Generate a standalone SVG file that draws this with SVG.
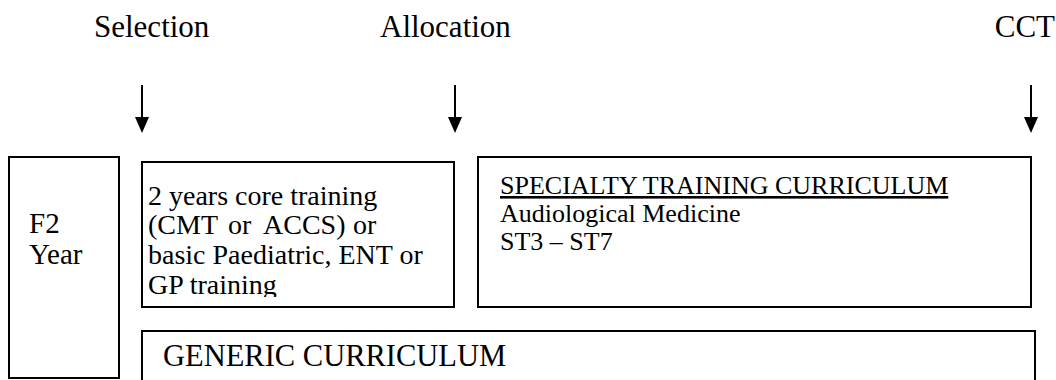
<svg xmlns="http://www.w3.org/2000/svg" width="1056" height="380" viewBox="0 0 1056 380">
<defs>
<style>
text{font-family:"Liberation Serif","DejaVu Serif",serif;fill:#000}
.lbl{font-size:31px}
.box{fill:#fff;stroke:#000;stroke-width:2}
.f2{font-size:29px}
.core{font-size:28px}
.spec{font-size:26px}
.gen{font-size:30.5px}
.conn line{stroke:#000;stroke-width:2}
.conn path{fill:#000;stroke:none}
</style>
<clipPath id="coreclip"><rect x="142" y="162" width="312" height="135"/></clipPath>
</defs>
<rect width="1056" height="380" fill="#fff"/>
<g id="labels">
<text class="lbl" x="94" y="37">Selection</text>
<text class="lbl" x="380" y="37">Allocation</text>
<text class="lbl" x="1055" y="37" text-anchor="end">CCT</text>
</g>
<g id="connectors" class="conn">
<line x1="142" y1="85" x2="142" y2="120"/>
<path d="M135,117 L149,117 L142,133 z"/>
<line x1="455" y1="85" x2="455" y2="120"/>
<path d="M448,117 L462,117 L455,133 z"/>
<line x1="1031" y1="85" x2="1031" y2="120"/>
<path d="M1024,117 L1038,117 L1031,133 z"/>
</g>
<g id="f2">
<rect class="box" x="9" y="157" width="110" height="221"/>
<text class="f2" x="29" y="233">F2</text>
<text class="f2" x="29" y="264">Year</text>
</g>
<g id="core">
<rect class="box" x="142" y="162" width="312" height="145"/>
<g clip-path="url(#coreclip)">
<text class="core" x="148" y="205">2 years core training</text>
<text class="core" y="234"><tspan x="148">(CMT</tspan><tspan x="228">or</tspan><tspan x="263">ACCS)</tspan><tspan x="353">or</tspan></text>
<text class="core" x="148" y="264">basic Paediatric, ENT or</text>
<text class="core" x="148" y="294">GP training</text>
</g>
</g>
<g id="specialty">
<rect class="box" x="478" y="157" width="553" height="150"/>
<text class="spec" x="500" y="194" text-decoration="underline">SPECIALTY TRAINING CURRICULUM</text>
<text class="spec" x="500" y="222">Audiological Medicine</text>
<text class="spec" x="500" y="250">ST3 – ST7</text>
</g>
<g id="generic">
<rect class="box" x="142" y="331" width="893" height="60"/>
<text class="gen" x="163" y="366">GENERIC CURRICULUM</text>
</g>
</svg>
